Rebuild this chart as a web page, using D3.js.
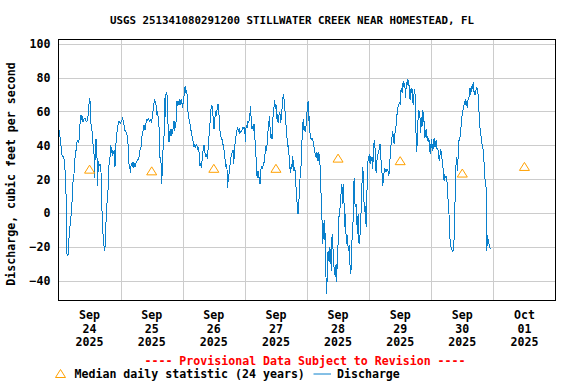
<!DOCTYPE html>
<html>
<head>
<meta charset="utf-8">
<script src="https://cdn.jsdelivr.net/npm/d3@7"></script>
<style>
  body { margin: 0; background: #fff; }
  svg text { font-family: "DejaVu Sans Mono", monospace; font-weight: bold; }
</style>
</head>
<body>
<script>
// Textos del grafico
const title = "USGS 251341080291200 STILLWATER CREEK NEAR HOMESTEAD, FL";
const yLabel = "Discharge, cubic feet per second";
const provisional = "---- Provisional Data Subject to Revision ----";
const medianLabel = "Median daily statistic (24 years)";
const lineLabel = "Discharge";

// Ejes
const yTicks = [-40, -20, 0, 20, 40, 60, 80, 100];
const months = ["Sep", "Sep", "Sep", "Sep", "Sep", "Sep", "Sep", "Oct"];
const days = ["24", "25", "26", "27", "28", "29", "30", "01"];
const years = ["2025", "2025", "2025", "2025", "2025", "2025", "2025", "2025"];

// Mediana diaria (una por dia, al mediodia)
const medians = [26, 25, 26.5, 26.5, 32.5, 31, 23.7, 27.6];

// Caudal: [horas desde Sep 24 00:00, pies cubicos por segundo]
const discharge = [
  [0.18,49],[0.7,44],[0.95,40],[1.47,33],[1.73,34],[1.98,33],[2.24,31],[2.63,23],[3.0,7.5],[3.27,-24],
  [3.66,-25],[4.05,-15],[4.43,-8],[5.08,2],[5.59,18],[5.98,23],[6.24,32],[6.62,33],[6.88,40],[7.27,43],
  [7.65,42],[7.91,43],[8.17,50],[8.43,55],[8.68,58],[8.94,55],[9.2,57],[9.46,54],[9.97,56],[10.23,56],
  [10.49,55],[10.74,54],[11.26,55],[11.52,59],[11.77,64],[12.03,68],[12.29,65],[12.42,56],[12.68,50],[12.93,49],
  [13.06,43],[13.32,41],[13.58,39],[13.84,31],[13.96,21],[14.22,39],[14.48,44],[14.74,37],[14.99,29],[15.12,16],
  [15.38,31],[15.64,28],[15.9,29],[16.28,29],[16.54,20],[16.8,1.6],[17.06,-10],[17.31,-14],[17.7,-22],[17.96,-20],
  [18.22,-11],[18.47,0],[18.73,5.5],[19.12,13],[19.38,25],[19.63,31],[19.89,33],[20.15,40],[20.53,37],[20.79,34],
  [21.05,37],[21.31,35],[21.56,37],[21.82,27],[22.08,40],[22.34,43],[22.6,48],[22.85,50],[23.11,54],[23.5,54],
  [23.88,53],[24.27,54],[24.79,56],[25.04,54],[25.3,52],[25.56,49],[25.95,49],[26.2,47],[26.46,46],[26.72,43],
  [26.98,39],[27.23,29],[27.49,28],[27.75,24],[28.0,28],[28.26,29],[28.52,28],[28.78,30],[29.04,28],[29.29,29],
  [29.55,27.5],[29.81,29],[30.07,30.6],[30.45,31],[30.84,32],[31.23,34],[31.48,37],[31.87,39],[32.13,45],[32.52,47],
  [32.77,50],[33.03,52],[33.42,49],[33.67,50],
  // Sep 25
  [33.93,55.5],[34.19,54.5],[34.71,55.5],[35.22,54],[35.74,55.5],[36.0,53.5],[36.38,59],[36.77,63],[37.02,67],[37.41,66],
  [37.67,64],[37.93,58],[38.18,60],[38.44,57.5],[38.7,53.5],[38.96,48.5],[39.21,33],[39.47,33],[39.73,26],[39.86,17],
  [40.12,27],[40.37,37],[40.63,43],[40.89,48.5],[41.02,68],[41.28,56.5],[41.53,70],[41.79,71],[42.05,68],[42.18,56.5],
  [42.44,48.5],[42.69,42],[42.95,48.5],[43.21,45.5],[43.47,49.5],[43.72,46.5],[44.11,47.5],[44.37,51.5],[44.62,54.5],[44.88,48.5],
  [45.14,52.5],[45.4,53.5],[45.66,60],[45.78,66],[46.04,63],[46.3,66],[46.56,64],[46.81,66],[47.07,65],[47.33,67],
  [47.59,66],[47.97,62],[48.23,67],[48.49,69],[48.75,74],[49.0,75],[49.26,71],[49.52,72],[49.78,69],[50.03,59.5],
  [50.29,56.5],[50.55,54.5],[50.81,52.5],[51.07,48.5],[51.32,48.5],[51.58,45.5],[51.84,43.5],[52.1,42],[52.35,39],[52.61,41],
  [52.87,39],[53.13,40],[53.38,41],[53.64,38],[53.9,39],[54.16,38],[54.42,34],[54.67,28],[54.93,29],[55.19,27],
  [55.45,31],[55.7,35],[55.96,38],[56.22,40],[56.48,37],[56.73,34],[56.99,33],[57.25,35],[57.51,32],[57.76,37],
  [58.02,43],[58.28,48],[58.54,53.5],[58.79,58.5],[59.05,64],[59.31,63],[59.57,60],[59.83,54.5],[60.08,49.5],[60.34,55.5],
  [60.6,58.5],[60.86,60],[61.11,57.5],[61.37,64],[61.63,64],[61.89,61.5],[62.14,54.5],[62.4,48.5],[62.66,45.5],[62.92,44.5],
  [63.17,43.5],[63.43,42],[63.69,39],[63.95,37],[64.21,33],[64.46,31],[64.72,27],[64.98,29],[65.24,22],[65.37,15],
  [65.62,23],[65.88,23],[66.14,28],[66.4,29],[66.65,33],[66.91,35],[67.17,36],[67.43,37],[67.68,29],
  // Sep 26 - 27
  [67.94,35],[68.2,41],[68.46,43],[68.72,48],[68.97,49],[69.23,50.5],[69.49,48],[69.75,50],[70.0,47],[70.26,48],
  [70.52,48],[70.91,49],[71.16,50.5],[71.42,50],[71.68,51],[71.94,50],[72.19,42],[72.45,50.5],[72.71,51.5],[72.97,50],
  [73.22,54.5],[73.48,53.5],[73.74,55.5],[74.0,59.5],[74.26,63],[74.51,50.5],[74.77,50],[75.03,51.5],[75.29,48.5],[75.54,52.5],
  [75.8,46.5],[76.06,39],[76.32,33],[76.57,23],[76.83,21],[77.09,25],[77.35,22],[77.6,20],[77.86,17],[78.12,25],
  [78.38,27],[78.63,26],[78.89,27],[79.15,29],[79.41,30],[79.67,33],[79.92,37],[80.18,40],[80.44,37],[80.7,44.5],
  [80.95,48.5],[81.21,51.5],[81.47,57.5],[81.73,50.5],[81.98,44.5],[82.24,46.5],[82.5,43.5],[82.76,54.5],[83.01,59.5],[83.27,63],
  [83.53,67],[83.79,61.5],[84.05,64],[84.3,55.5],[84.56,58.5],[84.82,53.5],[85.08,56.5],[85.33,59.5],[85.59,58.5],[85.85,53.5],
  [86.11,56.5],[86.36,61.5],[86.62,67],[86.88,70],[87.14,67],[87.39,63],[87.65,57.5],[87.91,51.5],[88.17,46.5],[88.43,42],
  [88.68,39],[88.94,40],[89.2,26],[89.46,27],[89.71,24],[89.97,29],[90.23,27],[90.49,34],[90.74,28],[91.0,25],
  [91.26,27],[91.52,23],[91.77,15],[92.03,9.5],[92.29,3.5],[92.55,-0.4],[92.81,3.5],[93.06,15],[93.32,21],[93.58,25],
  [93.84,32],[94.09,43.5],[94.35,52.5],[94.61,55.5],[94.87,48.5],[95.12,51.5],[95.38,48],[95.64,51.5],[95.9,57.5],[96.15,62],
  [96.41,66],[96.67,54.5],[96.93,57.5],[97.18,46.5],[97.44,44.5],[97.7,43.5],[97.96,44.5],[98.22,43.5],[98.47,41],[98.73,39],
  [98.99,37],[99.25,33],[99.5,36],[99.76,34],[100.02,31],[100.28,36],[100.53,31],[100.79,35],[101.05,28],
  // Sep 28 - 29
  [101.18,20],[101.44,11],[101.82,-5],[102.08,-18],[102.34,-6],[102.6,-16],[102.85,-4],[103.11,-22],[103.37,-39.5],[103.63,-47.5],
  [103.89,-30],[104.14,-22],[104.4,-28],[104.66,-20],[104.92,-30],[105.17,-21],[105.43,-34],[105.69,-12],[105.95,-18],[106.2,-26],
  [106.46,-32],[106.72,-36],[106.98,-37.5],[107.23,-30],[107.49,-40.5],[107.75,-22],[108.01,-18],[108.27,-2.3],[108.52,-1.4],[108.78,3.5],
  [109.04,7.5],[109.3,17],[109.55,15],[109.81,5.5],[110.07,17],[110.33,4.5],[110.58,-8],[110.84,-0.4],[111.1,-14],[111.36,-18],
  [111.61,-13],[111.87,-20],[112.13,-22],[112.39,-19],[112.65,-32],[112.9,-36],[113.16,-30],[113.42,-14],[113.68,-8],[113.93,-0.4],
  [114.19,21],[114.45,6.5],[114.71,3.5],[114.96,5.5],[115.22,-4],[115.48,-12],[115.74,-0.4],[115.99,-17],[116.25,-18],[116.51,-12],
  [116.77,-6],[117.03,9.5],[117.28,19],[117.54,27],[117.8,21],[118.06,4.5],[118.31,0.6],[118.57,4.5],[118.83,-8],[119.09,9.5],
  [119.34,20],[119.6,32],[119.86,33],[120.12,35],[120.37,29],[120.63,34],[120.89,31],[121.15,33],[121.41,26],[121.66,37],
  [121.92,42],[122.18,43],[122.44,31],[122.69,24],[122.95,30],[123.21,33],[123.47,35],[123.72,36],[123.98,39],[124.24,41],
  [124.5,33],[124.75,28],[125.01,23],[125.27,16],[125.53,21],[125.79,24],[126.04,26],[126.3,25],[126.56,26],[126.82,25],
  [127.07,25.5],[127.33,25],[127.59,22],[127.85,26],[128.1,33],[128.36,40],[128.62,41],[128.88,45.5],[129.13,48.5],[129.39,44.5],
  [129.65,41],[129.91,45.5],[130.16,50.5],[130.42,51.5],[130.68,57.5],[130.94,59.5],[131.2,63],[131.45,64],[131.71,65],[131.97,64],
  [132.23,72],[132.48,74],[132.74,71],[133.0,76],[133.26,78],[133.51,74],[133.77,77],[134.03,68],[134.29,74],[134.54,77],
  [134.8,78],[135.06,75],[135.32,78.5],[135.57,70],[135.83,67],
  // Sep 29 - 30
  [135.96,73],[136.22,71],[136.48,74],[136.74,71],[136.99,64],[137.25,69],[137.51,73],[137.77,70],[138.02,60],[138.15,42],
  [138.41,36],[138.67,46.5],[138.93,56.5],[139.18,61],[139.44,59.5],[139.7,55.5],[139.96,47.5],[140.21,56.5],[140.47,51.5],[140.73,61],
  [140.99,57.5],[141.24,53.5],[141.5,44.5],[141.76,46.5],[142.02,49.5],[142.28,44.5],[142.53,45.5],[142.79,42],[143.05,44.5],[143.31,41],
  [143.56,35],[143.82,39],[144.08,43.5],[144.34,37],[144.59,41],[144.85,38],[145.11,44.5],[145.37,39],[145.62,40],[145.88,43],
  [146.14,38],[146.4,38],[146.66,37],[146.91,33],[147.17,31],[147.43,35],[147.69,37],[147.94,36],[148.2,31],[148.46,29],
  [148.72,22],[148.97,19],[149.23,22],[149.49,21],[149.75,21.5],[150.0,21],[150.26,13],[150.52,7.5],[150.78,1.6],[151.04,-6],
  [151.29,-17],[151.55,-19],[151.81,-21],[152.07,-22],[152.32,-23],[152.58,-20],[152.84,-15],[153.1,1.6],[153.35,17],[153.61,31],
  [153.87,33],[154.13,25],[154.38,33],[154.64,43],[154.9,43],[155.16,45.5],[155.41,48.5],[155.67,55.5],[155.93,57.5],[156.19,60],
  [156.45,62],[156.7,64],[156.96,66],[157.22,67],[157.48,63],[157.73,66],[157.99,62],[158.25,68],[158.51,67],[158.76,72],
  [159.02,74],[159.28,70],[159.54,75],[159.79,73],[160.05,76],[160.31,77],[160.57,70],[160.82,72],[161.08,70],[161.34,73],
  [161.6,74],[161.86,73],[162.11,70],[162.37,61],[162.63,56.5],[162.89,48.5],[163.14,46.5],[163.4,43.5],[163.66,40],[163.92,39],
  [164.17,36],[164.43,29],[164.69,21],[164.95,19],[165.2,15],[165.46,-22],[165.72,-13],[165.98,-16],[166.23,-18],[166.49,-19],
  [166.75,-21]
];

// Dimensiones
const width = 576;
const height = 384;
const plotLeft = 58.5, plotRight = 555.5, plotTop = 39.5, plotBottom = 300.5;
const blue = "#0a80cc";
const orange = "#ffa000";

const start = new Date(2025, 8, 24);
const end = new Date(2025, 9, 2);
const dayDates = days.map((d, i) => d3.timeDay.offset(start, i));

const svg = d3.select("body")
  .append("svg")
  .attr("width", width)
  .attr("height", height);

// Escalas
const xScale = d3.scaleTime().domain([start, end]).range([plotLeft, plotRight]);
const yScale = d3.scaleLinear().domain([-51.4, 102.4]).range([plotBottom, plotTop]);

// Rejilla horizontal + etiquetas del eje y
const yAxis = svg.append("g")
  .attr("transform", `translate(${plotLeft},0)`)
  .call(d3.axisLeft(yScale).tickValues(yTicks).tickSize(-(plotRight - plotLeft)).tickPadding(8));
yAxis.select(".domain").remove();
yAxis.selectAll("line").attr("stroke", "#cccccc").attr("shape-rendering", "crispEdges");
yAxis.selectAll("text").attr("fill", "#000").style("font-size", "11.6px");

// Rejilla vertical a medianoche
const xAxis = svg.append("g")
  .attr("transform", `translate(0,${plotBottom})`)
  .call(d3.axisBottom(xScale).tickValues(dayDates.slice(1)).tickSize(-(plotBottom - plotTop)).tickFormat(""));
xAxis.select(".domain").remove();
xAxis.selectAll("line").attr("stroke", "#cccccc").attr("shape-rendering", "crispEdges");

// Etiquetas de fecha al mediodia
const labels = svg.append("g").style("font-size", "11.6px").attr("text-anchor", "middle");
dayDates.forEach((d, i) => {
  const x = xScale(d3.timeHour.offset(d, 12));
  labels.append("text").attr("x", x).attr("y", 319).text(months[i]);
  labels.append("text").attr("x", x).attr("y", 332.5).text(days[i]);
  labels.append("text").attr("x", x).attr("y", 346).text(years[i]);
});

// Linea de caudal
const line = d3.line()
  .x(d => xScale(new Date(start.getTime() + d[0] * 3600e3)))
  .y(d => yScale(d[1]));

svg.append("path")
  .datum(discharge)
  .attr("fill", "none")
  .attr("stroke", blue)
  .attr("stroke-width", 1)
  .attr("shape-rendering", "crispEdges")
  .attr("d", line);

// Triangulos de la mediana
const tri = "M-5,4L5,4L0,-4Z";
svg.selectAll(".median")
  .data(medians)
  .enter()
  .append("path")
  .attr("class", "median")
  .attr("d", tri)
  .attr("transform", (d, i) => `translate(${xScale(d3.timeHour.offset(dayDates[i], 12))},${yScale(d)})`)
  .attr("fill", "none")
  .attr("stroke", orange)
  .attr("stroke-width", 1);

// Marco
svg.append("rect")
  .attr("x", plotLeft).attr("y", plotTop)
  .attr("width", plotRight - plotLeft).attr("height", plotBottom - plotTop)
  .attr("fill", "none").attr("stroke", "#000").attr("stroke-width", 1)
  .attr("shape-rendering", "crispEdges");

// Titulo
svg.append("text")
  .attr("x", 292).attr("y", 24)
  .attr("text-anchor", "middle")
  .style("font-size", "10.8px")
  .text(title);

// Titulo del eje y
svg.append("text")
  .attr("transform", "translate(15,174) rotate(-90)")
  .attr("text-anchor", "middle")
  .style("font-size", "11.6px")
  .text(yLabel);

// Aviso provisional
svg.append("text")
  .attr("x", 305).attr("y", 365)
  .attr("text-anchor", "middle")
  .attr("fill", "#ff0000")
  .style("font-size", "11.6px")
  .text(provisional);

// Leyenda
svg.append("path").attr("d", tri)
  .attr("transform", "translate(60.5,373.5)")
  .attr("fill", "none").attr("stroke", orange);
svg.append("text").attr("x", 74.5).attr("y", 378).style("font-size", "11.6px").text(medianLabel);
svg.append("line")
  .attr("x1", 313.5).attr("x2", 331).attr("y1", 374).attr("y2", 374)
  .attr("stroke", blue).attr("stroke-width", 1);
svg.append("text").attr("x", 337).attr("y", 378).style("font-size", "11.6px").text(lineLabel);
</script>
</body>
</html>
